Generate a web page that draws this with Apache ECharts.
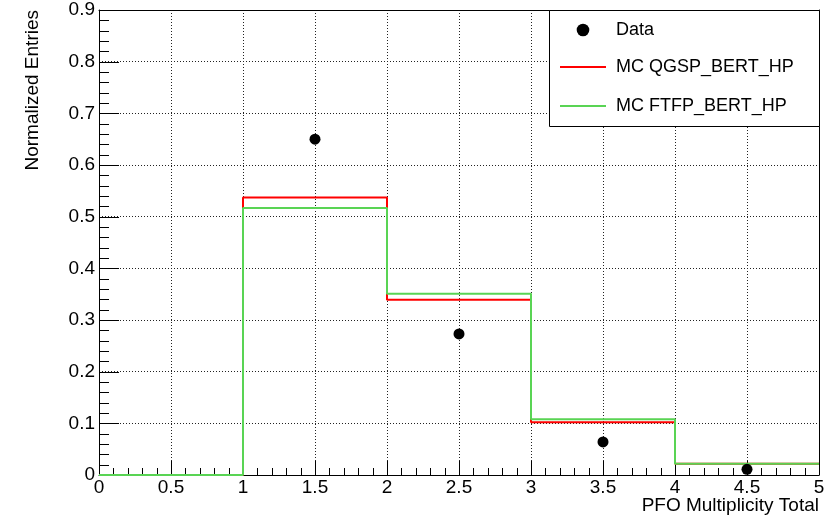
<!DOCTYPE html>
<html>
<head>
<meta charset="utf-8">
<script src="https://cdn.jsdelivr.net/npm/echarts@6/dist/echarts.min.js"></script>
<style>
html,body{margin:0;padding:0;background:#fff;}
#chart{width:838px;height:517px;}
</style>
</head>
<body>
<div id="chart"></div>
<script>
// Bin edges and histogram contents
var binEdges = [0, 1, 2, 3, 4, 5];
var qgspValues = [0, 0.537, 0.339, 0.102, 0.022];
var ftfpValues = [0, 0.517, 0.351, 0.108, 0.022];
// Data points (bin centres, values)
var dataX = [1.5, 2.5, 3.5, 4.5];
var dataY = [0.650, 0.273, 0.064, 0.011];
var seriesNames = ['Data', 'MC QGSP_BERT_HP', 'MC FTFP_BERT_HP'];
var xTitle = 'PFO Multiplicity Total';
var yTitle = 'Normalized Entries';
// Axis ranges and tick steps
var xRange = [0, 5], xMajor = 0.5, xMinorDiv = 5;
var yRange = [0, 0.9], yMajor = 0.1, yMinorDiv = 5;

function histPoints(edges, vals) {
  var pts = [];
  for (var i = 0; i < vals.length; i++) pts.push([edges[i], vals[i]]);
  pts.push([edges[edges.length - 1], vals[vals.length - 1]]);
  return pts;
}
var dataPts = dataX.map(function (x, i) { return [x, dataY[i]]; });

// tick list: [value, kind]  kind 0 = x major, 1 = x minor, 2 = y major, 3 = y minor
function tickList(range, major, div, kMaj, kMin) {
  var out = [];
  var n = Math.round((range[1] - range[0]) / major * div);
  for (var i = 0; i <= n; i++) {
    var v = range[0] + i * major / div;
    out.push([+v.toFixed(6), i % div === 0 ? kMaj : kMin]);
  }
  return out;
}
var ticks = tickList(xRange, xMajor, xMinorDiv, 0, 1).concat(tickList(yRange, yMajor, yMinorDiv, 2, 3));
var tickLen = [14, 7, 20, 10];

var FONT = 'Liberation Sans, Arial, Helvetica, sans-serif';
var RED = '#ff0000', GREEN = '#59d454';
var chart = echarts.init(document.getElementById('chart'), null, {renderer: 'canvas'});

var gridLine = {show: true, lineStyle: {color: '#222', width: 1, type: [1, 2]}};
var noLine = {show: false};

chart.setOption({
  animation: false,
  backgroundColor: '#fff',
  grid: {left: 99, right: 19, top: 10, bottom: 42},
  xAxis: [{
    type: 'value', min: xRange[0], max: xRange[1], interval: xMajor, position: 'bottom', z: 3,
    axisLine: {show: true, onZero: false, lineStyle: {color: '#000', width: 1}},
    axisTick: noLine, minorTick: noLine,
    axisLabel: {show: true, color: '#000', fontSize: 19, fontFamily: FONT, margin: 3},
    splitLine: gridLine
  }, {
    type: 'value', min: xRange[0], max: xRange[1], interval: xMajor, position: 'top', z: 3,
    axisLine: {show: true, onZero: false, lineStyle: {color: '#000', width: 1}},
    axisTick: noLine, minorTick: noLine, axisLabel: noLine, splitLine: noLine
  }],
  yAxis: [{
    type: 'value', min: yRange[0], max: yRange[1], interval: yMajor, position: 'left', z: 3,
    axisLine: {show: true, onZero: false, lineStyle: {color: '#000', width: 1}},
    axisTick: noLine, minorTick: noLine,
    axisLabel: {show: true, color: '#000', fontSize: 19, fontFamily: FONT, margin: 4,
      formatter: function (v) { return String(Math.round(v * 10) / 10); }},
    splitLine: gridLine
  }, {
    type: 'value', min: yRange[0], max: yRange[1], interval: yMajor, position: 'right', z: 3,
    axisLine: {show: true, onZero: false, lineStyle: {color: '#000', width: 1}},
    axisTick: noLine, minorTick: noLine, axisLabel: noLine, splitLine: noLine
  }],
  graphic: [
    {type: 'rect', left: 549, top: 10, z: 10,
      shape: {width: 270, height: 116}, style: {fill: '#fff', stroke: '#000', lineWidth: 1}},
    {type: 'circle', z: 11, shape: {cx: 583, cy: 30, r: 6.3}, style: {fill: '#000'}},
    {type: 'text', z: 11, x: 616, y: 30, style: {text: seriesNames[0], fill: '#000', font: '18px ' + FONT, verticalAlign: 'middle'}},
    {type: 'line', z: 11, shape: {x1: 560, y1: 67, x2: 606, y2: 67}, style: {stroke: RED, lineWidth: 2}},
    {type: 'text', z: 11, x: 616, y: 67, style: {text: seriesNames[1], fill: '#000', font: '18px ' + FONT, verticalAlign: 'middle'}},
    {type: 'line', z: 11, shape: {x1: 560, y1: 106, x2: 606, y2: 106}, style: {stroke: GREEN, lineWidth: 2}},
    {type: 'text', z: 11, x: 616, y: 106, style: {text: seriesNames[2], fill: '#000', font: '18px ' + FONT, verticalAlign: 'middle'}},
    {type: 'text', x: 819, y: 506, style: {text: xTitle, fill: '#000', font: '19px ' + FONT, align: 'right', verticalAlign: 'middle'}},
    {type: 'text', x: 33, y: 10, rotation: Math.PI / 2, style: {text: yTitle, fill: '#000', font: '19px ' + FONT, align: 'right', verticalAlign: 'middle'}}
  ],
  series: [
    {type: 'custom', coordinateSystem: 'cartesian2d', xAxisIndex: 0, yAxisIndex: 0, clip: false, z: 3,
      silent: true, data: ticks, encode: {x: 0, y: -1},
      renderItem: function (params, api) {
        var v = api.value(0), kind = api.value(1), len = tickLen[kind];
        var p, shape;
        if (kind < 2) {
          p = api.coord([v, yRange[0]]);
          var px = Math.round(p[0]) + 0.5;
          shape = {x1: px, y1: p[1], x2: px, y2: p[1] - len};
        } else {
          p = api.coord([xRange[0], v]);
          var py = Math.round(p[1]) + 0.5;
          shape = {x1: p[0], y1: py, x2: p[0] + len, y2: py};
        }
        return {type: 'line', shape: shape, style: {stroke: '#000', lineWidth: 1}};
      }},
    {name: seriesNames[1], type: 'line', step: 'end', symbol: 'none', z: 4,
      data: histPoints(binEdges, qgspValues),
      lineStyle: {color: RED, width: 2}, itemStyle: {color: RED}},
    {name: seriesNames[2], type: 'line', step: 'end', symbol: 'none', z: 5,
      data: histPoints(binEdges, ftfpValues),
      lineStyle: {color: GREEN, width: 2}, itemStyle: {color: GREEN}},
    {name: seriesNames[0], type: 'scatter', symbol: 'circle', symbolSize: 11, z: 6,
      data: dataPts, itemStyle: {color: '#000', opacity: 1}}
  ]
});
</script>
</body>
</html>
